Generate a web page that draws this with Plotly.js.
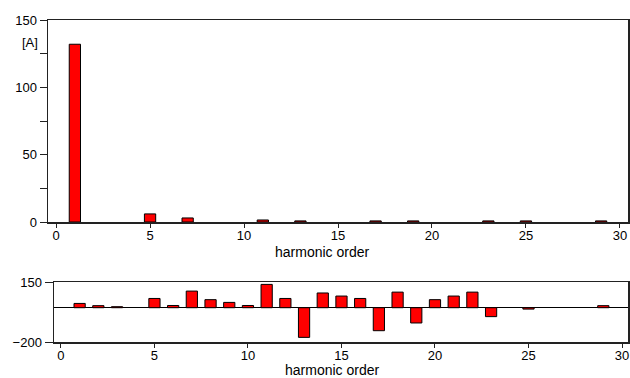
<!DOCTYPE html>
<html>
<head>
<meta charset="utf-8">
<script src="https://cdn.plot.ly/plotly-3.0.1.min.js"></script>
<style>html,body{margin:0;padding:0;background:#fff;}#chart{width:630px;height:378px;}</style>
</head>
<body>
<div id="chart"></div>
<script>
// Amplitude spectrum (top panel)
const ampOrders = [1, 5, 7, 11, 13, 17, 19, 23, 25, 29];
const ampValues = [132, 6, 3, 1.5, 0.8, 0.8, 0.8, 0.8, 0.8, 0.8];

// Phase (bottom panel)
const phaseOrders = [1, 2, 3, 5, 6, 7, 8, 9, 10, 11, 12, 13, 14, 15, 16, 17, 18, 19, 20, 21, 22, 23, 25, 29];
const phaseValues = [25, 12, 6, 54, 13, 97, 47, 31, 13, 136, 54, -173, 86, 68, 54, -134, 91, -89, 47, 68, 91, -52, -8, 12];

const xTicks = [0, 5, 10, 15, 20, 25, 30];
const ampTicks = [0, 25, 50, 75, 100, 125, 150];
const ampTickText = ['0', '', '50', '', '100', '', '150'];
const phaseTicks = [-200, 150];

const W = 630, H = 378;
const font = {family: 'Liberation Sans, Arial, sans-serif', size: 14, color: '#000'};
const tickFont = {family: 'Liberation Sans, Arial, sans-serif', size: 13, color: '#000'};
const barStyle = {color: '#ff0000', line: {color: '#000', width: 1}};

const data = [
  {type: 'bar', x: ampOrders, y: ampValues, width: 0.6, marker: barStyle, xaxis: 'x', yaxis: 'y', hoverinfo: 'x+y'},
  {type: 'bar', x: phaseOrders, y: phaseValues, width: 0.6, marker: barStyle, xaxis: 'x2', yaxis: 'y2', hoverinfo: 'x+y'}
];

const axisCommon = {
  showline: true, mirror: true, linecolor: '#222', linewidth: 1.5,
  ticks: 'outside', ticklen: 4, tickwidth: 1, tickcolor: '#222',
  showgrid: false, zeroline: false, tickfont: tickFont, fixedrange: true,
  ticklabeloverflow: 'allow'
};

const layout = {
  width: W, height: H,
  margin: {l: 0, r: 0, t: 0, b: 0},
  paper_bgcolor: '#fff', plot_bgcolor: '#fff',
  showlegend: false,
  font: font,
  xaxis: Object.assign({}, axisCommon, {
    domain: [48 / W, 628 / W], range: [-0.43, 30.43],
    tickmode: 'array', tickvals: xTicks, anchor: 'y', ticklabelstandoff: -3
  }),
  yaxis: Object.assign({}, axisCommon, {
    domain: [1 - 222 / H, 1 - 20 / H], range: [0, 150],
    tickmode: 'array', tickvals: ampTicks, ticktext: ampTickText, ticklen: 7, anchor: 'x'
  }),
  xaxis2: Object.assign({}, axisCommon, {
    domain: [54 / W, 628 / W], range: [-0.37, 30.32],
    tickmode: 'array', tickvals: xTicks, anchor: 'y2', ticklabelstandoff: -3
  }),
  yaxis2: Object.assign({}, axisCommon, {
    domain: [1 - 342 / H, 1 - 282 / H], range: [-200, 150],
    tickmode: 'array', tickvals: phaseTicks, ticklen: 8, anchor: 'x2',
    zeroline: true, zerolinecolor: '#000', zerolinewidth: 1
  }),
  annotations: [
    {text: '[A]', xref: 'paper', yref: 'paper', x: 40 / W, y: 1 - 43 / H, xanchor: 'right', yanchor: 'middle', showarrow: false, font: tickFont},
    {text: 'harmonic order', xref: 'paper', yref: 'paper', x: 322 / W, y: 1 - 252 / H, xanchor: 'center', yanchor: 'middle', showarrow: false, font: font},
    {text: 'harmonic order', xref: 'paper', yref: 'paper', x: 332 / W, y: 1 - 370 / H, xanchor: 'center', yanchor: 'middle', showarrow: false, font: font}
  ]
};

Plotly.newPlot('chart', data, layout, {displayModeBar: false, staticPlot: true});
</script>
</body>
</html>
